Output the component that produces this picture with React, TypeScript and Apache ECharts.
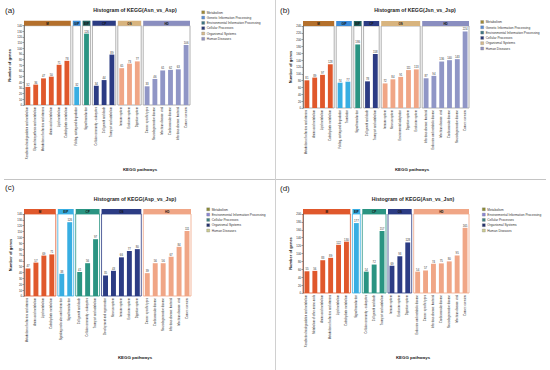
import React, { useEffect, useRef } from "react";
import * as echarts from "echarts";

// ---------- DATA ----------
const aTitle = "Histogram of KEGG(Asn_vs_Asp)";
const aCategories = [
  "Xenobiotics biodegradation and metabolism",
  "Glycan biosynthesis and metabolism",
  "Metabolism of cofactors and vitamins",
  "Amino acid metabolism",
  "Lipid metabolism",
  "Carbohydrate metabolism",
  "Folding, sorting and degradation",
  "Signal transduction",
  "Cellular community - eukaryotes",
  "Cell growth and death",
  "Transport and catabolism",
  "Immune system",
  "Endocrine system",
  "Digestive system",
  "Cancer: specific types",
  "Neurodegenerative disease",
  "Infectious disease: viral",
  "Cardiovascular disease",
  "Infectious disease: bacterial",
  "Cancer: overview",
];
const aValues = [32, 36, 47, 50, 71, 78, 32, 126, 34, 44, 89, 65, 73, 77, 33, 46, 61, 62, 63, 106];
const aGroups = ["M", "M", "M", "M", "M", "M", "GIP", "EIP", "CP", "CP", "CP", "OS", "OS", "OS", "HD", "HD", "HD", "HD", "HD", "HD"];
const aYTicks = { max: 140, step: 10 };

const bTitle = "Histogram of KEGG(Jsn_vs_Jsp)";
const bCategories = [
  "Metabolism of cofactors and vitamins",
  "Amino acid metabolism",
  "Lipid metabolism",
  "Carbohydrate metabolism",
  "Folding, sorting and degradation",
  "Translation",
  "Signal transduction",
  "Cell growth and death",
  "Transport and catabolism",
  "Immune system",
  "Nervous system",
  "Environmental adaptation",
  "Digestive system",
  "Endocrine system",
  "Infectious disease: bacterial",
  "Endocrine and metabolic disease",
  "Infectious disease: viral",
  "Cardiovascular disease",
  "Neurodegenerative disease",
  "Cancer: overview",
];
const bValues = [81, 89, 97, 128, 74, 77, 186, 78, 158, 72, 84, 91, 111, 113, 87, 94, 136, 140, 143, 224];
const bGroups = ["M", "M", "M", "M", "GIP", "GIP", "EIP", "CP", "CP", "OS", "OS", "OS", "OS", "OS", "HD", "HD", "HD", "HD", "HD", "HD"];
const bYTicks = { max: 240, step: 20 };

const cTitle = "Histogram of KEGG(Asp_vs_Jsp)";
const cCategories = [
  "Metabolism of cofactors and vitamins",
  "Amino acid metabolism",
  "Lipid metabolism",
  "Carbohydrate metabolism",
  "Signaling molecules and interaction",
  "Signal transduction",
  "Cell growth and death",
  "Cellular community - eukaryotes",
  "Transport and catabolism",
  "Development and regeneration",
  "Nervous system",
  "Immune system",
  "Endocrine system",
  "Digestive system",
  "Cancer: specific types",
  "Cardiovascular disease",
  "Neurodegenerative disease",
  "Infectious disease: bacterial",
  "Infectious disease: viral",
  "Cancer: overview",
];
const cValues = [47, 57, 69, 71, 38, 126, 41, 56, 97, 35, 43, 66, 77, 80, 39, 56, 56, 67, 84, 111];
const cGroups = ["M", "M", "M", "M", "EIP", "EIP", "CP", "CP", "CP", "OS", "OS", "OS", "OS", "OS", "HD", "HD", "HD", "HD", "HD", "HD"];
const cYTicks = { max: 140, step: 10 };

const dTitle = "Histogram of KEGG(Asn_vs_Jsn)";
const dCategories = [
  "Xenobiotics biodegradation and metabolism",
  "Metabolism of other amino acids",
  "Amino acid metabolism",
  "Metabolism of cofactors and vitamins",
  "Lipid metabolism",
  "Carbohydrate metabolism",
  "Signal transduction",
  "Cellular community - eukaryotes",
  "Cell growth and death",
  "Transport and catabolism",
  "Immune system",
  "Endocrine system",
  "Digestive system",
  "Endocrine and metabolic disease",
  "Cancer: specific types",
  "Infectious disease: bacterial",
  "Cardiovascular disease",
  "Neurodegenerative disease",
  "Infectious disease: viral",
  "Cancer: overview",
];
const dValues = [55, 56, 83, 89, 122, 130, 177, 54, 72, 157, 69, 93, 128, 54, 57, 74, 75, 80, 95, 165];
const dGroups = ["M", "M", "M", "M", "M", "M", "EIP", "CP", "CP", "CP", "OS", "OS", "OS", "HD", "HD", "HD", "HD", "HD", "HD", "HD"];
const dYTicks = { max: 200, step: 20 };

const legend6 = [
  "Metabolism",
  "Genetic Information Processing",
  "Environmental Information Processing",
  "Cellular Processes",
  "Organismal Systems",
  "Human Diseases",
];
const legend5 = [
  "Metabolism",
  "Environmental Information Processing",
  "Cellular Processes",
  "Organismal Systems",
  "Human Diseases",
];

// ---------- STYLES ----------
const FONT = "Liberation Sans, Arial, sans-serif";
const barColors6: Record<string, string> = {
  M: "#e0582c", GIP: "#38aee2", EIP: "#2a9482", CP: "#2c3c84", OS: "#f0a686", HD: "#9096c6",
};
const headColors6: Record<string, string> = {
  M: "#b4702c", GIP: "#3c8cd8", EIP: "#22605e", CP: "#2c3c84", OS: "#d8b47e", HD: "#8a8ec0",
};
const barColors5: Record<string, string> = {
  M: "#e0582c", EIP: "#38aee2", CP: "#2a9482", OS: "#2c3c84", HD: "#f0a686",
};
const legendColors6 = ["#a08a34", "#5a8ed8", "#3e7684", "#2a3878", "#d8ba8c", "#9292c2"];
const legendColors5 = ["#8c8c34", "#8a86d8", "#3e8080", "#22306e", "#cccc90"];

type Panel = {
  label: string; title: string; cats: string[]; vals: number[]; groups: string[];
  yt: { max: number; step: number };
  ox: number; oy: number; plotLeft: number; plotW: number; top: number; bottom: number;
  barColors: Record<string, string>; headColors: Record<string, string>; borderGrey: boolean;
  legend: string[]; legendColors: string[]; legX: number; legY: number;
  titleX: number; titleY: number; xNameX: number; xNameY: number; yNameX: number; labelY: number;
};

const panels: Panel[] = [
  {
    label: "(a)", title: aTitle, cats: aCategories, vals: aValues, groups: aGroups, yt: aYTicks,
    ox: 0, oy: 0, plotLeft: 24, plotW: 166, top: 25.7, bottom: 105,
    barColors: barColors6, headColors: headColors6, borderGrey: true,
    legend: legend6, legendColors: legendColors6, legX: 201.7, legY: 12.3,
    titleX: 135, titleY: 10, xNameX: 140, xNameY: 169, yNameX: 9, labelY: 10.5,
  },
  {
    label: "(b)", title: bTitle, cats: bCategories, vals: bValues, groups: bGroups, yt: bYTicks,
    ox: 275, oy: 0, plotLeft: 28, plotW: 166, top: 26, bottom: 108,
    barColors: barColors6, headColors: headColors6, borderGrey: true,
    legend: legend6, legendColors: legendColors6, legX: 205.7, legY: 22,
    titleX: 140, titleY: 10, xNameX: 137, xNameY: 169, yNameX: 15, labelY: 10.5,
  },
  {
    label: "(c)", title: cTitle, cats: cCategories, vals: cValues, groups: cGroups, yt: cYTicks,
    ox: 0, oy: 185, plotLeft: 24, plotW: 167, top: 29, bottom: 111,
    barColors: barColors5, headColors: barColors5, borderGrey: false,
    legend: legend5, legendColors: legendColors5, legX: 206.7, legY: 24.3,
    titleX: 135, titleY: 14, xNameX: 135, xNameY: 172, yNameX: 10, labelY: 2,
  },
  {
    label: "(d)", title: dTitle, cats: dCategories, vals: dValues, groups: dGroups, yt: dYTicks,
    ox: 275, oy: 185, plotLeft: 28, plotW: 166, top: 29, bottom: 108,
    barColors: barColors5, headColors: barColors5, borderGrey: false,
    legend: legend5, legendColors: legendColors5, legX: 207.3, legY: 24.3,
    titleX: 138, titleY: 14, xNameX: 138, xNameY: 172, yNameX: 15, labelY: 3,
  },
];

function buildOption() {
  const grids: any[] = [];
  const xAxes: any[] = [];
  const yAxes: any[] = [];
  const series: any[] = [];
  const graphics: any[] = [];

  // dividers
  graphics.push({ type: "line", shape: { x1: 4, y1: 179.5, x2: 546, y2: 179.5 }, style: { stroke: "#c4c4c4", lineWidth: 1 } });
  graphics.push({ type: "line", shape: { x1: 275.5, y1: 0, x2: 275.5, y2: 370 }, style: { stroke: "#d0d0d0", lineWidth: 1 } });

  panels.forEach((p) => {
    const order: string[] = [];
    p.groups.forEach((g) => { if (!order.includes(g)) order.push(g); });
    const gap = 2;
    const slot = (p.plotW - (order.length - 1) * gap) / p.cats.length;
    let x = p.ox + p.plotLeft;
    const top = p.oy + p.top;
    const h = p.bottom - p.top;

    order.forEach((g, gi) => {
      const idxs = p.groups.map((gg, i) => (gg === g ? i : -1)).filter((i) => i >= 0);
      const w = slot * idxs.length;
      const gridIndex = grids.length;
      const border = p.borderGrey ? "#9c9c9c" : p.barColors[g];
      grids.push({ left: x, top, width: w, height: h, show: true, borderColor: border, borderWidth: 0.8, backgroundColor: "transparent" });
      xAxes.push({
        type: "category", gridIndex, data: idxs.map((i) => p.cats[i]),
        axisTick: { show: false }, axisLine: { show: false },
        axisLabel: { interval: 0, rotate: 90, fontSize: 2.7, margin: 2, color: "#222", fontFamily: FONT },
      });
      yAxes.push({
        type: "value", gridIndex, min: 0, max: p.yt.max, interval: p.yt.step, show: gi === 0,
        axisLine: { show: true, lineStyle: { color: "#444", width: 0.6 } },
        axisTick: { show: true, length: 1.5, lineStyle: { color: "#444", width: 0.5 } },
        axisLabel: { fontSize: 2.8, margin: 2, color: "#222", fontFamily: FONT },
        splitLine: { show: false },
      });
      series.push({
        type: "bar", xAxisIndex: gridIndex, yAxisIndex: gridIndex,
        data: idxs.map((i) => p.vals[i]), barWidth: slot * 0.62,
        itemStyle: { color: p.barColors[g] },
        label: { show: true, position: "top", fontSize: 2.8, distance: 1, color: "#333", fontFamily: FONT },
      });
      graphics.push({ type: "rect", shape: { x, y: top - 5, width: w, height: 5 }, style: { fill: p.headColors[g] } });
      graphics.push({
        type: "text", x: x + w / 2, y: top - 2.5,
        style: { text: g, fontSize: 3, fontWeight: "bold", fill: "#111", align: "center", verticalAlign: "middle", fontFamily: FONT },
      });
      x += w + gap;
    });

    // panel label
    graphics.push({ type: "text", x: p.ox + 5, y: p.oy + p.labelY, style: { text: p.label, fontSize: 8, fill: "#222", align: "left", verticalAlign: "middle", fontFamily: FONT } });
    // title
    graphics.push({ type: "text", x: p.ox + p.titleX, y: p.oy + p.titleY, style: { text: p.title, fontSize: 5.2, fontWeight: "bold", fill: "#222", align: "center", verticalAlign: "middle", fontFamily: FONT } });
    // x name
    graphics.push({ type: "text", x: p.ox + p.xNameX, y: p.oy + p.xNameY, style: { text: "KEGG pathways", fontSize: 4.4, fontWeight: "bold", fill: "#222", align: "center", verticalAlign: "middle", fontFamily: FONT } });
    // y name
    graphics.push({ type: "text", x: p.ox + p.yNameX, y: p.oy + (p.top + p.bottom) / 2, rotation: Math.PI / 2, style: { text: "Number of genes", fontSize: 4, fontWeight: "bold", fill: "#222", align: "center", verticalAlign: "middle", fontFamily: FONT } });
    // legend
    p.legend.forEach((name, i) => {
      const ly = p.oy + p.legY + i * 5.3;
      graphics.push({ type: "rect", shape: { x: p.ox + p.legX, y: ly - 1.5, width: 3, height: 3 }, style: { fill: p.legendColors[i], stroke: "#777", lineWidth: 0.3 } });
      graphics.push({ type: "text", x: p.ox + p.legX + 5, y: ly, style: { text: name, fontSize: 3.2, fill: "#333", align: "left", verticalAlign: "middle", fontFamily: FONT } });
    });
  });

  return {
    animation: false,
    backgroundColor: "#ffffff",
    textStyle: { fontFamily: FONT },
    grid: grids,
    xAxis: xAxes,
    yAxis: yAxes,
    series,
    graphic: graphics,
  };
}

export default function App() {
  const ref = useRef<HTMLDivElement>(null);
  useEffect(() => {
    if (!ref.current) return;
    const chart = echarts.init(ref.current, undefined, { renderer: "svg" });
    chart.setOption(buildOption() as any);
    return () => chart.dispose();
  }, []);
  return <div ref={ref} style={{ position: "fixed", left: 0, top: 0, width: 550, height: 370, background: "#fff" }} />;
}
